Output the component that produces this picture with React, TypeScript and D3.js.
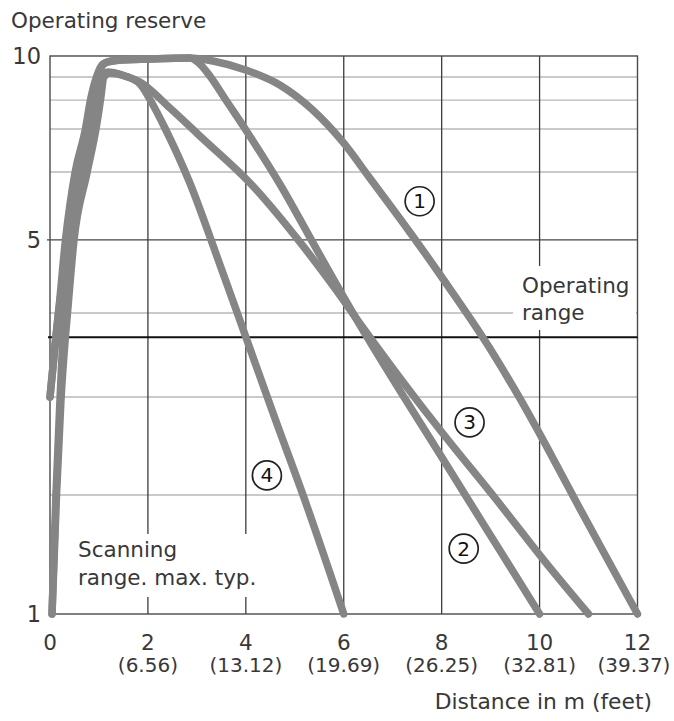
import React from 'react';
import * as d3 from 'd3';

const W = 674;
const H = 721;
const M = { left: 50, right: 637.5, top: 56, bottom: 614 };

// ---- axis definitions ----
const xTicks = [0, 2, 4, 6, 8, 10, 12];
const xTickFeet = ['', '(6.56)', '(13.12)', '(19.69)', '(26.25)', '(32.81)', '(39.37)'];
const xGridValues = [2, 4, 6, 8, 10];
const yLabelTicks = [1, 5, 10];
const yGridValues = [1, 2, 3, 4, 5, 6, 7, 8, 9, 10];
const yGridHeavy = [5];
const operatingRange = 3.71;
// relative height of each grid value on the printed (non-logarithmic) reserve axis
const yAxisCalibration = [0, 0.2133, 0.3889, 0.5394, 0.6703, 0.7921, 0.8692, 0.9211, 0.9624, 1];

// ---- series: [distance m, operating reserve] ----
const curve1: [number, number][] = [
  [0, 3.0], [0.122, 3.726], [0.173, 4.0], [0.316, 5.0], [0.51, 5.985], [0.724, 7.0], [0.827, 8.0],
  [0.949, 9.0], [1.082, 9.619], [1.327, 9.786], [2.041, 9.857], [2.857, 9.905], [3.327, 9.762],
  [4.0, 9.333], [4.694, 8.652], [5.367, 7.655], [5.98, 6.698], [6.531, 5.912], [7.347, 5.118],
  [8.0, 4.493], [8.98, 3.583], [9.592, 2.99], [10.204, 2.439], [10.816, 1.891], [11.429, 1.429],
  [12, 1],
];
const curve2: [number, number][] = [
  [0, 3.0], [0.122, 3.726], [0.173, 4.0], [0.378, 5.0], [0.571, 5.985], [0.776, 7.0], [0.867, 8.0],
  [0.98, 9.0], [1.122, 9.667], [1.367, 9.786], [2.041, 9.857], [2.857, 9.905], [3.061, 9.619],
  [3.265, 9.048], [3.592, 8.0], [4.0, 6.977], [4.694, 5.824], [5.51, 4.795], [6.367, 3.821],
  [7.204, 3.024], [8.0, 2.388], [8.571, 1.941], [9.184, 1.538], [10, 1],
];
const curve3: [number, number][] = [
  [0.041, 1], [0.122, 2], [0.204, 2.969], [0.265, 3.726], [0.296, 4.0], [0.439, 5.0], [0.673, 5.985],
  [0.857, 7.0], [0.959, 8.0], [1.051, 9.0], [1.184, 9.238], [1.531, 9.048], [1.837, 8.783],
  [2.449, 7.724], [3.061, 6.837], [4.143, 5.794], [5.102, 4.973], [5.816, 4.342], [6.367, 3.845],
  [7.49, 2.969], [8.0, 2.643], [9.122, 1.958], [10.102, 1.445], [11, 1],
];
const curve4: [number, number][] = [
  [0.041, 1], [0.133, 2], [0.224, 2.969], [0.316, 3.726], [0.357, 4.0], [0.49, 5.0], [0.755, 5.985],
  [0.939, 7.0], [1.031, 8.0], [1.102, 9.0], [1.224, 9.19], [1.531, 9.048], [1.837, 8.696],
  [2.082, 7.897], [2.347, 7.034], [2.857, 5.838], [3.429, 4.74], [4.0, 3.714], [4.592, 2.786],
  [5.204, 1.958], [6, 1],
];
const seriesNames = ['1', '2', '3', '4'];
const seriesData = [curve1, curve2, curve3, curve4];
// circled-number label anchors in data units
const labelAnchors: [number, number][] = [[7.55, 5.57], [8.45, 1.55], [8.57, 2.74], [4.43, 2.2]];

const FONT = "'DejaVu Sans', sans-serif";
const TEXT = '#383838';

export default function App() {
  const x = d3.scaleLinear().domain([0, 12]).range([M.left, M.right]);
  const y = d3
    .scaleLinear()
    .domain(yGridValues)
    .range(yAxisCalibration.map((f) => M.bottom - f * (M.bottom - M.top)));

  const line = d3
    .line<[number, number]>()
    .x((d) => x(d[0]))
    .y((d) => y(d[1]))
    .curve(d3.curveMonotoneX);

  return (
    <svg
      width={W}
      height={H}
      style={{ position: 'absolute', left: 0, top: 0, background: '#fff' }}
      fontFamily={FONT}
    >
      <rect x={0} y={0} width={W} height={H} fill="#fff" />
      {/* light horizontal grid */}
      {yGridValues
        .filter((v) => v !== 1 && v !== 10 && !yGridHeavy.includes(v))
        .map((v) => (
          <line key={'h' + v} x1={M.left} x2={M.right} y1={y(v)} y2={y(v)} stroke="#b8b8b8" strokeWidth={1.3} />
        ))}
      {/* heavy horizontal grid */}
      {yGridHeavy.map((v) => (
        <line key={'hh' + v} x1={M.left - 3} x2={M.right} y1={y(v)} y2={y(v)} stroke="#444" strokeWidth={1.3} />
      ))}
      {/* vertical grid */}
      {xGridValues.map((v) => (
        <line key={'v' + v} x1={x(v)} x2={x(v)} y1={M.top} y2={M.bottom} stroke="#3c3c3c" strokeWidth={1.3} />
      ))}
      {/* frame */}
      <rect x={M.left} y={M.top} width={M.right - M.left} height={M.bottom - M.top} fill="none" stroke="#4a4a4a" strokeWidth={1.4} />

      {/* label knock-out boxes */}
      <rect x={513} y={266} width={123} height={64} fill="#fff" />
      <rect x={68} y={534} width={190} height={63} fill="#fff" />

      {/* operating range line */}
      <line x1={M.left - 2} x2={M.right} y1={y(operatingRange)} y2={y(operatingRange)} stroke="#111" strokeWidth={2} />

      {/* curves */}
      {seriesData.map((pts, i) => (
        <path
          key={'c' + seriesNames[i]}
          d={line(pts) || ''}
          fill="none"
          stroke="#858585"
          strokeWidth={7.5}
          strokeLinecap="round"
          strokeLinejoin="round"
        />
      ))}

      {/* circled numbers */}
      {labelAnchors.map((p, i) => (
        <g key={'lab' + i} transform={`translate(${x(p[0])},${y(p[1])})`}>
          <circle r={14.5} fill="#fff" stroke="#222" strokeWidth={1.7} />
          <text textAnchor="middle" y={7} fontSize={20} fill="#111">
            {seriesNames[i]}
          </text>
        </g>
      ))}

      {/* y axis */}
      <text x={11} y={28} fontSize={21.5} fill={TEXT}>Operating reserve</text>
      {yLabelTicks.map((v) => (
        <text key={'yt' + v} x={41} y={y(v) + 8.2} fontSize={22.5} textAnchor="end" fill={TEXT}>
          {v}
        </text>
      ))}

      {/* x axis */}
      {xTicks.map((v, i) => (
        <g key={'xt' + v}>
          <text x={x(v)} y={650} fontSize={21.5} textAnchor="middle" fill={TEXT}>
            {v}
          </text>
          {xTickFeet[i] && (
            <text x={Math.min(x(v), 634)} y={672} fontSize={20} textAnchor="middle" fill={TEXT}>
              {xTickFeet[i]}
            </text>
          )}
        </g>
      ))}
      <text x={652} y={709} fontSize={21.8} textAnchor="end" fill={TEXT}>Distance in m (feet)</text>

      {/* annotations */}
      <text x={522} y={293} fontSize={21.5} fill={TEXT}>Operating</text>
      <text x={522} y={320} fontSize={21.5} fill={TEXT}>range</text>
      <text x={78} y={557} fontSize={21.5} fill={TEXT}>Scanning</text>
      <text x={78} y={585} fontSize={21.5} fill={TEXT}>range. max. typ.</text>
    </svg>
  );
}
